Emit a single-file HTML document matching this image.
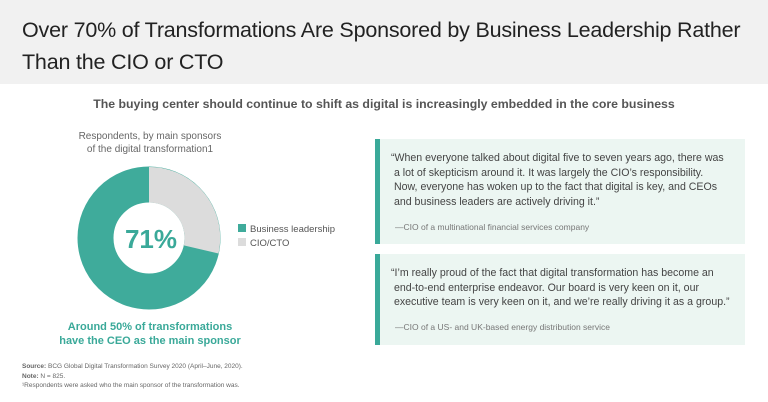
<!DOCTYPE html>
<html><head><style>
body{margin:0;width:768px;height:402px;background:#fff;font-family:"Liberation Sans",sans-serif;position:relative;overflow:hidden;color:#333}
.hdr{position:absolute;left:0;top:0;width:768px;height:84px;background:#f1f1f1}
.hdr div{position:absolute;left:22px;top:14px;font-size:21.5px;line-height:32px;color:#222;letter-spacing:-0.2px;white-space:nowrap}
.sub{position:absolute;left:0;width:768px;top:97px;text-align:center;font-size:12.3px;font-weight:bold;color:#555}
.abs{position:absolute}
.box{position:absolute;left:375px;width:370px;background:#ecf6f2;border-left:5px solid #3aa999;box-sizing:border-box}
.q{position:absolute;left:11px;font-size:10.6px;line-height:14.7px;color:#444;white-space:nowrap}
.a{position:absolute;left:15px;font-size:8.5px;color:#777}
</style></head><body>
<div class="hdr"><div>Over 70% of Transformations Are Sponsored by Business Leadership Rather<br>Than the CIO or CTO</div></div>
<div class="sub">The buying center should continue to shift as digital is increasingly embedded in the core business</div>
<div class="abs" style="left:60px;top:130px;width:180px;text-align:center;font-size:10px;line-height:13px;color:#666">Respondents, by main sponsors<br>of the digital transformation1</div>
<svg class="abs" style="left:0;top:0" width="768" height="402">
<circle cx="149" cy="238" r="53.5" fill="none" stroke="#3fab9b" stroke-width="36"/>
<path d="M149 167 A71 71 0 0 1 218.5 253.5 L183.8 245.4 A35.5 35.5 0 0 0 149 202.5 Z" fill="#dcdcdc"/>
<text x="151" y="248" text-anchor="middle" font-family="Liberation Sans" font-weight="bold" font-size="26" fill="#3aa999">71%</text>
<rect x="238" y="224" width="8" height="8" fill="#3fab9b"/>
<rect x="238" y="238" width="8" height="8" fill="#dcdcdc"/>
<text x="250" y="232" font-family="Liberation Sans" font-size="9.5" fill="#555">Business leadership</text>
<text x="250" y="246" font-family="Liberation Sans" font-size="9.5" fill="#555">CIO/CTO</text>
</svg>
<div class="abs" style="left:50px;top:320px;width:200px;text-align:center;font-size:11px;line-height:14px;font-weight:bold;color:#3aa999">Around 50% of transformations<br>have the CEO as the main sponsor</div>
<div class="abs" style="left:22px;top:362px;font-size:6.5px;line-height:9.5px;color:#666"><b>Source:</b> BCG Global Digital Transformation Survey 2020 (April–June, 2020).<br><b>Note:</b> N = 825.<br>¹Respondents were asked who the main sponsor of the transformation was.</div>
<div class="box" style="top:139px;height:105px">
<div class="q" style="top:12px">“When everyone talked about digital five to seven years ago, there was<br>&nbsp;a lot of skepticism around it. It was largely the CIO’s responsibility.<br>&nbsp;Now, everyone has woken up to the fact that digital is key, and CEOs<br>&nbsp;and business leaders are actively driving it.”</div>
<div class="a" style="top:83px">—CIO of a multinational financial services company</div>
</div>
<div class="box" style="top:254px;height:91px">
<div class="q" style="top:12px">“I’m really proud of the fact that digital transformation has become an<br>&nbsp;end-to-end enterprise endeavor. Our board is very keen on it, our<br>&nbsp;executive team is very keen on it, and we’re really driving it as a group.”</div>
<div class="a" style="top:68px">—CIO of a US- and UK-based energy distribution service</div>
</div>
</body></html>
